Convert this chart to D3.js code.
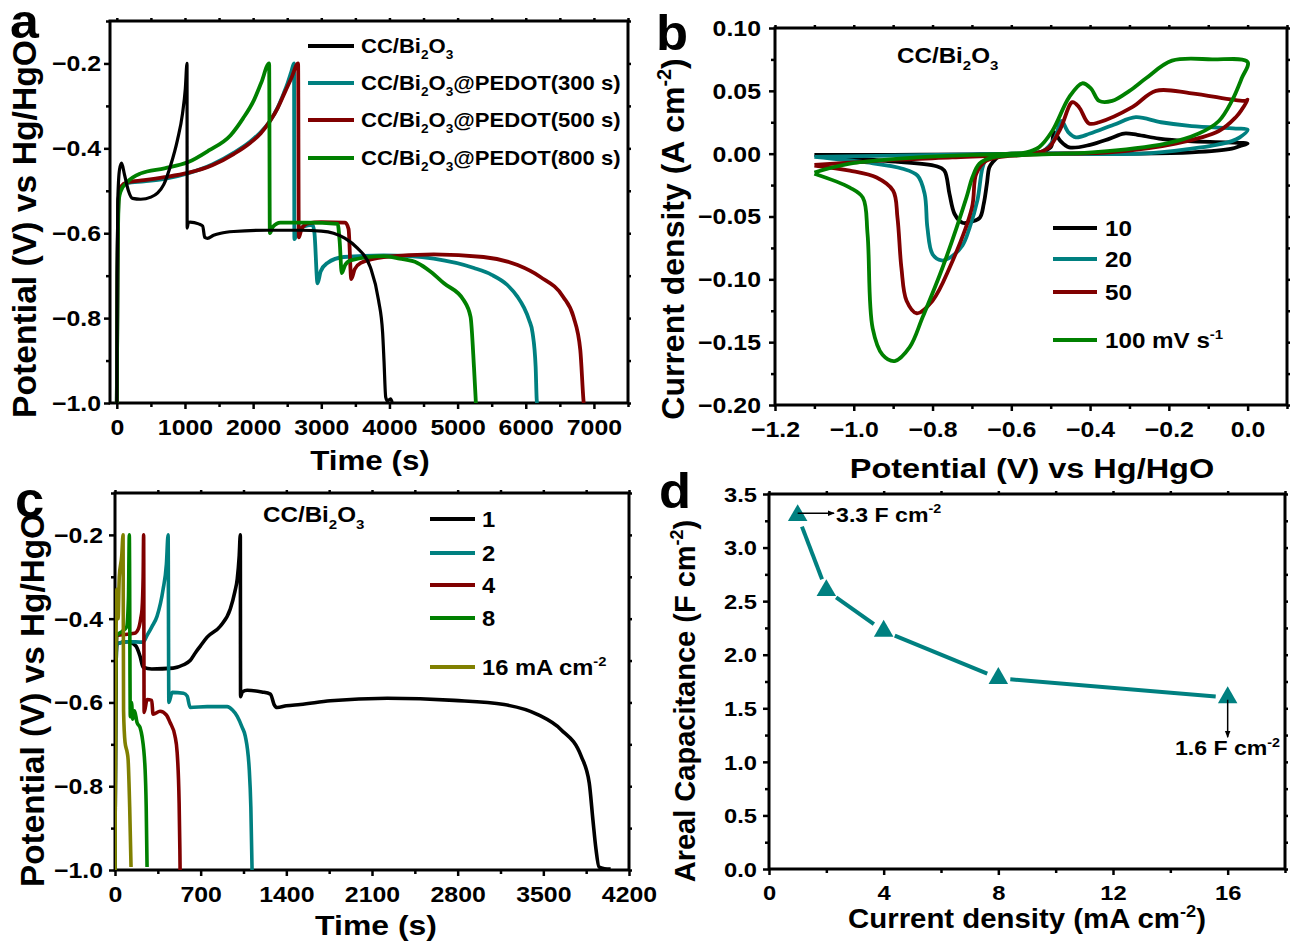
<!DOCTYPE html>
<html>
<head>
<meta charset="utf-8">
<script src="https://cdn.jsdelivr.net/npm/d3@7"></script>
<style>
  body { margin: 0; background: #fff; }
  text { font-family: "Liberation Sans", Arial, Helvetica, sans-serif; font-weight: bold; fill: #000; }
</style>
</head>
<body>
<svg id="fig" width="1293" height="941"></svg>
<script>
// ---- panel a : GCD of the four electrodes at 1 mA cm-2, [time s, potential V]
var gcd_bi2o3 = [[0,-1.0],[5,-0.7],[15,-0.52],[40,-0.45],[70,-0.435],[110,-0.46],[170,-0.5],[230,-0.518],[350,-0.52],[500,-0.515],[600,-0.505],[690,-0.485],[790,-0.44],[890,-0.38],[965,-0.317],[1005,-0.26],[1030,-0.2],[1032,-0.588],[1050,-0.575],[1075,-0.574],[1200,-0.578],[1260,-0.583],[1290,-0.61],[1330,-0.612],[1420,-0.605],[1525,-0.6],[1715,-0.596],[2200,-0.593],[2700,-0.593],[3000,-0.595],[3180,-0.6],[3350,-0.612],[3530,-0.635],[3720,-0.68],[3840,-0.758],[3900,-0.835],[3920,-0.9],[3945,-0.986],[3970,-0.995],[4017,-0.99],[4040,-0.998]];
var gcd_pedot300 = [[0,-1.0],[10,-0.7],[25,-0.52],[60,-0.495],[150,-0.482],[400,-0.478],[700,-0.472],[1040,-0.459],[1400,-0.438],[1720,-0.41],[1950,-0.385],[2110,-0.362],[2250,-0.335],[2360,-0.304],[2450,-0.27],[2505,-0.247],[2560,-0.22],[2600,-0.2],[2605,-0.614],[2640,-0.6],[2730,-0.585],[2870,-0.58],[2900,-0.6],[2945,-0.718],[2990,-0.69],[3090,-0.67],[3330,-0.656],[3915,-0.652],[4300,-0.654],[4650,-0.66],[5240,-0.682],[5500,-0.698],[5730,-0.722],[5880,-0.75],[5970,-0.774],[6050,-0.805],[6100,-0.835],[6145,-0.915],[6160,-0.99],[6165,-1.0]];
var gcd_pedot500 = [[0,-1.0],[10,-0.7],[25,-0.52],[60,-0.49],[150,-0.48],[400,-0.475],[700,-0.468],[1040,-0.458],[1400,-0.44],[1720,-0.413],[1950,-0.388],[2110,-0.365],[2250,-0.335],[2360,-0.305],[2460,-0.27],[2560,-0.235],[2660,-0.2],[2670,-0.61],[2710,-0.59],[2800,-0.577],[3000,-0.574],[3350,-0.575],[3400,-0.59],[3440,-0.708],[3490,-0.685],[3580,-0.67],[3915,-0.656],[4650,-0.65],[5380,-0.656],[5880,-0.675],[6215,-0.703],[6550,-0.75],[6700,-0.797],[6800,-0.875],[6845,-0.99],[6850,-1.0]];
var gcd_pedot800 = [[0,-1.0],[10,-0.7],[30,-0.52],[60,-0.5],[150,-0.48],[350,-0.459],[700,-0.447],[1040,-0.433],[1350,-0.405],[1670,-0.369],[1850,-0.33],[2010,-0.287],[2120,-0.245],[2235,-0.2],[2245,-0.6],[2290,-0.585],[2400,-0.575],[2800,-0.575],[3240,-0.578],[3270,-0.62],[3300,-0.694],[3350,-0.675],[3430,-0.664],[3915,-0.654],[4150,-0.66],[4410,-0.67],[4600,-0.69],[4800,-0.718],[5090,-0.758],[5190,-0.797],[5240,-0.915],[5265,-0.99],[5268,-1.0]];
var legendA = ['', '@PEDOT(300 s)', '@PEDOT(500 s)', '@PEDOT(800 s)'];

// ---- panel b : CV at several scan rates, [potential V, current A cm-2]
var cv_10 = [[-1.1,-0.001],[-0.9,-0.001],[-0.7,-0.0005],[-0.6,0],[-0.53,0.001],[-0.5,0.005],[-0.491,0.017],[-0.475,0.01],[-0.453,0.005],[-0.4,0.007],[-0.35,0.012],[-0.314,0.016],[-0.28,0.015],[-0.225,0.012],[-0.15,0.01],[-0.056,0.009],[0,0.008],[-0.02,0.006],[-0.04,0.004],[-0.142,0.001],[-0.31,0],[-0.55,0],[-0.63,-0.002],[-0.648,-0.007],[-0.656,-0.011],[-0.662,-0.024],[-0.67,-0.04],[-0.68,-0.051],[-0.7,-0.054],[-0.724,-0.055],[-0.744,-0.048],[-0.757,-0.032],[-0.77,-0.0135],[-0.79,-0.01],[-0.927,-0.0056],[-1.1,-0.001]];
var cv_20 = [[-1.1,-0.0025],[-0.9,-0.0015],[-0.7,-0.0005],[-0.6,0],[-0.52,0.002],[-0.49,0.012],[-0.473,0.026],[-0.455,0.017],[-0.436,0.013],[-0.4,0.016],[-0.34,0.023],[-0.284,0.029],[-0.22,0.025],[-0.142,0.022],[-0.03,0.02],[0,0.019],[-0.02,0.013],[-0.04,0.01],[-0.08,0.007],[-0.142,0.004],[-0.27,0],[-0.55,0],[-0.64,-0.002],[-0.663,-0.004],[-0.673,-0.011],[-0.686,-0.037],[-0.706,-0.059],[-0.724,-0.073],[-0.757,-0.083],[-0.777,-0.085],[-0.8,-0.08],[-0.813,-0.059],[-0.82,-0.032],[-0.838,-0.0175],[-0.876,-0.012],[-0.967,-0.007],[-1.1,-0.0025]];
var cv_50 = [[-1.1,-0.009],[-1.0,-0.007],[-0.9,-0.005],[-0.75,-0.003],[-0.6,-0.001],[-0.53,0.001],[-0.504,0.005],[-0.475,0.02],[-0.445,0.041],[-0.428,0.037],[-0.403,0.024],[-0.377,0.025],[-0.293,0.037],[-0.233,0.05],[-0.142,0.048],[-0.006,0.042],[0,0.043],[-0.015,0.035],[-0.03,0.029],[-0.073,0.018],[-0.183,0.008],[-0.352,0.001],[-0.562,-0.001],[-0.663,-0.0056],[-0.689,-0.016],[-0.7,-0.043],[-0.757,-0.091],[-0.8,-0.117],[-0.84,-0.127],[-0.866,-0.117],[-0.879,-0.091],[-0.889,-0.051],[-0.9,-0.0295],[-0.942,-0.019],[-1.01,-0.0135],[-1.1,-0.0095]];
var cv_100 = [[-1.1,-0.015],[-1.01,-0.008],[-0.84,-0.003],[-0.7,-0.001],[-0.6,0],[-0.562,0.001],[-0.53,0.005],[-0.496,0.018],[-0.453,0.045],[-0.42,0.056],[-0.398,0.052],[-0.377,0.042],[-0.344,0.042],[-0.3,0.05],[-0.258,0.06],[-0.192,0.074],[-0.09,0.075],[0,0.073],[-0.015,0.06],[-0.04,0.042],[-0.073,0.026],[-0.124,0.016],[-0.208,0.008],[-0.395,0.001],[-0.562,-0.001],[-0.648,-0.003],[-0.681,-0.008],[-0.699,-0.019],[-0.714,-0.035],[-0.775,-0.091],[-0.825,-0.13],[-0.858,-0.154],[-0.896,-0.165],[-0.927,-0.16],[-0.952,-0.139],[-0.965,-0.064],[-0.977,-0.035],[-1.01,-0.027],[-1.1,-0.016]];
var legendB = ['10', '20', '50', '100 mV s'];

// ---- panel c : GCD of CC/Bi2O3 at different current densities
var gcd_1 = [[0,-1.0],[5,-0.6],[15,-0.46],[100,-0.455],[170,-0.465],[205,-0.49],[230,-0.516],[300,-0.52],[475,-0.518],[560,-0.51],[614,-0.5],[660,-0.48],[696,-0.466],[753,-0.444],[860,-0.418],[942,-0.377],[980,-0.335],[999,-0.305],[1015,-0.25],[1024,-0.2],[1026,-0.586],[1040,-0.575],[1080,-0.571],[1200,-0.575],[1270,-0.58],[1300,-0.605],[1325,-0.612],[1400,-0.608],[1515,-0.605],[1760,-0.596],[2225,-0.59],[2770,-0.595],[3180,-0.605],[3455,-0.629],[3645,-0.665],[3810,-0.729],[3875,-0.792],[3905,-0.88],[3930,-0.95],[3955,-0.993],[4000,-0.997],[4050,-0.998]];
var gcd_2 = [[0,-1.0],[5,-0.6],[15,-0.46],[100,-0.455],[230,-0.456],[262,-0.44],[300,-0.42],[344,-0.394],[393,-0.33],[420,-0.27],[434,-0.2],[440,-0.6],[467,-0.576],[560,-0.578],[590,-0.585],[614,-0.612],[753,-0.61],[917,-0.61],[960,-0.618],[999,-0.633],[1040,-0.66],[1065,-0.681],[1097,-0.76],[1110,-0.85],[1120,-1.0]];
var gcd_4 = [[0,-1.0],[5,-0.6],[15,-0.44],[100,-0.437],[160,-0.435],[190,-0.425],[210,-0.4],[221,-0.377],[230,-0.3],[234,-0.2],[238,-0.624],[262,-0.593],[300,-0.595],[311,-0.628],[368,-0.621],[420,-0.63],[450,-0.648],[490,-0.68],[508,-0.72],[524,-0.84],[530,-0.95],[532,-1.0]];
var gcd_8 = [[0,-1.0],[5,-0.6],[15,-0.44],[60,-0.43],[95,-0.42],[110,-0.35],[117,-0.2],[125,-0.634],[135,-0.6],[145,-0.64],[160,-0.62],[180,-0.648],[205,-0.66],[221,-0.681],[246,-0.76],[255,-0.85],[262,-0.993]];
var gcd_16 = [[0,-1.0],[5,-0.6],[15,-0.33],[25,-0.4],[35,-0.3],[55,-0.25],[66,-0.2],[70,-0.62],[82,-0.695],[100,-0.72],[107,-0.736],[120,-0.85],[131,-0.993]];
var legendC = ['1', '2', '4', '8', '16 mA cm'];

// ---- panel d : areal capacitance
var currentDensity = [1, 2, 4, 8, 16];
var arealCap = [3.3, 2.6, 2.22, 1.78, 1.6];

var svg = d3.select('#fig');
var defs = svg.append('defs');
defs.append('marker')
  .attr('id', 'arrow')
  .attr('viewBox', '0 0 10 10')
  .attr('refX', 9).attr('refY', 5)
  .attr('markerWidth', 7).attr('markerHeight', 7)
  .attr('markerUnits', 'userSpaceOnUse')
  .attr('orient', 'auto')
  .append('path').attr('d', 'M0,1 L10,5 L0,9 z').attr('fill', '#000');

// text with sub/superscripts, parts = [[str, 'sub'|'sup'|null], ...]
function rich(sel, parts, size) {
  var off = 0;
  parts.forEach(function (p) {
    var target = p[1] === 'sub' ? size * 0.3 : p[1] === 'sup' ? -size * 0.4 : 0;
    sel.append('tspan')
      .attr('dy', target - off)
      .style('font-size', (p[1] ? size * 0.62 : size) + 'px')
      .text(p[0]);
    off = target;
  });
  return sel;
}

function label(x, y, parts, size, opts) {
  opts = opts || {};
  var tr = `translate(${x},${y}) scale(${opts.sx || 1},1)` + (opts.rot ? ` rotate(${opts.rot})` : '');
  var t = svg.append('text')
    .attr('transform', tr)
    .attr('text-anchor', opts.anchor || 'start')
    .style('font-size', size + 'px');
  if (opts.len) t.attr('textLength', opts.len).attr('lengthAdjust', 'spacingAndGlyphs');
  return rich(t, parts, size);
}

function minorOf(dom, step, major) {
  var out = [];
  var lo = Math.min(dom[0], dom[1]), hi = Math.max(dom[0], dom[1]);
  for (var v = Math.ceil(lo / step - 1e-9) * step; v <= hi + 1e-9; v += step) {
    var r = Math.round(v * 1e6) / 1e6;
    if (!major.some(function (m) { return Math.abs(m - r) < 1e-9; })) out.push(r);
  }
  return out;
}

function makePanel(o) {
  var x = d3.scaleLinear().domain(o.xDom).range([o.l, o.r]);
  var y = d3.scaleLinear().domain(o.yDom).range([o.b, o.t]);
  var g = svg.append('g');
  var cid = 'clip-' + o.name;
  defs.append('clipPath').attr('id', cid)
    .append('rect').attr('x', o.l).attr('y', o.t).attr('width', o.r - o.l).attr('height', o.b - o.t);

  var xMinor = minorOf(o.xDom, o.xStep / 2, o.xMajor);
  var yMinor = minorOf(o.yDom, o.yStep / 2, o.yMajor);

  function ax(gen, tr, vals, size, fmt) {
    var a = g.append('g').attr('transform', tr)
      .call(gen.tickValues(vals).tickSize(size).tickSizeOuter(0).tickFormat(fmt || ''));
    a.select('.domain').remove();
    a.selectAll('line').attr('stroke', '#000').attr('stroke-width', 2.5);
    return a;
  }

  var bx = ax(d3.axisBottom(x), `translate(0,${o.b})`, o.xMajor, 6, o.xFmt);
  bx.selectAll('text')
    .attr('y', o.xLabY).attr('dy', '0.71em')
    .attr('transform', `scale(${o.tsx},1)`)
    .style('font-size', o.tick + 'px').attr('fill', '#000');
  ax(d3.axisBottom(x), `translate(0,${o.b})`, xMinor, 4);
  ax(d3.axisTop(x), `translate(0,${o.t})`, o.xMajor.concat(xMinor), 3);

  var ly = ax(d3.axisLeft(y), `translate(${o.l},0)`, o.yMajor, 6, o.yFmt);
  ly.selectAll('text')
    .attr('x', -o.yLabGap / o.tsx).attr('dy', '0.34em')
    .attr('transform', `scale(${o.tsx},1)`)
    .style('font-size', o.tick + 'px').attr('fill', '#000');
  ax(d3.axisLeft(y), `translate(${o.l},0)`, yMinor, 4);
  ax(d3.axisRight(y), `translate(${o.r},0)`, o.yMajor.concat(yMinor), 3);

  g.append('rect')
    .attr('x', o.l).attr('y', o.t)
    .attr('width', o.r - o.l).attr('height', o.b - o.t)
    .attr('fill', 'none').attr('stroke', '#000').attr('stroke-width', 3);

  var plot = g.append('g').attr('clip-path', `url(#${cid})`);
  return { x: x, y: y, g: g, plot: plot };
}

var teal = '#008080', dred = '#800000', green = '#008000', olive = '#808000';

// ================= panel a =================
var pa = makePanel({
  name: 'a', l: 110, r: 628, t: 21, b: 403,
  xDom: [-100, 7500], yDom: [-1.0, -0.1],
  xMajor: d3.range(0, 7001, 1000), xStep: 1000,
  yMajor: [-1.0, -0.8, -0.6, -0.4, -0.2], yStep: 0.2,
  xFmt: d3.format('d'), yFmt: d3.format('.1f'),
  tick: 22, tsx: 1.13, xLabY: 16, yLabGap: 9
});
var lineA = d3.line().x(d => pa.x(d[0])).y(d => pa.y(d[1])).curve(d3.curveMonotoneX);
[[gcd_pedot300, teal], [gcd_pedot500, dred], [gcd_pedot800, green], [gcd_bi2o3, '#000']].forEach(function (s) {
  pa.plot.append('path')
    .attr('d', lineA(s[0]))
    .attr('fill', 'none').attr('stroke', s[1])
    .attr('stroke-width', s[1] === '#000' ? 3.2 : 3.8)
    .attr('stroke-linejoin', 'round');
});
var legAy = [46, 83, 120, 158];
['#000', teal, dred, green].forEach(function (c, i) {
  svg.append('line').attr('x1', 308).attr('x2', 354).attr('y1', legAy[i]).attr('y2', legAy[i])
    .attr('stroke', c).attr('stroke-width', 4);
  var parts = [['CC/Bi'], ['2', 'sub'], ['O'], ['3', 'sub']];
  if (legendA[i]) parts.push([legendA[i]]);
  label(361, legAy[i] + 7, parts, 21, { sx: 1.05 });
});
label(10, 38, [['a']], 48, { sx: 1.08 });
label(36, 229, [['Potential (V) vs Hg/HgO']], 33, { rot: -90, anchor: 'middle', len: 378 });
label(370, 470, [['Time (s)']], 28, { anchor: 'middle', sx: 1.12 });

// ================= panel b =================
var pb = makePanel({
  name: 'b', l: 775, r: 1287, t: 28, b: 405,
  xDom: [-1.2, 0.1], yDom: [-0.2, 0.1],
  xMajor: [-1.2, -1.0, -0.8, -0.6, -0.4, -0.2, 0.0], xStep: 0.2,
  yMajor: [-0.2, -0.15, -0.1, -0.05, 0, 0.05, 0.1], yStep: 0.05,
  xFmt: d3.format('.1f'), yFmt: d3.format('.2f'),
  tick: 22, tsx: 1.13, xLabY: 16, yLabGap: 14
});
var lineB = d3.line().x(d => pb.x(d[0])).y(d => pb.y(d[1])).curve(d3.curveCatmullRom.alpha(0.5));
var cvSets = [[cv_10, '#000'], [cv_20, teal], [cv_50, dred], [cv_100, green]];
cvSets.forEach(function (s) {
  pb.plot.append('path')
    .attr('d', lineB(s[0]))
    .attr('fill', 'none').attr('stroke', s[1])
    .attr('stroke-width', 3.8).attr('stroke-linejoin', 'round');
});
var legBy = [228, 259, 292, 340];
cvSets.forEach(function (s, i) {
  svg.append('line').attr('x1', 1053).attr('x2', 1097).attr('y1', legBy[i]).attr('y2', legBy[i])
    .attr('stroke', s[1]).attr('stroke-width', 4);
  var parts = [[legendB[i]]];
  if (i === 3) parts.push(['-1', 'sup']);
  label(1105, legBy[i] + 8, parts, 22, { sx: 1.1 });
});
label(897, 63, [['CC/Bi'], ['2', 'sub'], ['O'], ['3', 'sub']], 22, { sx: 1.1 });
label(656, 50, [['b']], 50, { sx: 1.05 });
label(684, 239, [['Current density (A cm'], ['-2', 'sup'], [')']], 32, { rot: -90, anchor: 'middle' });
label(1032, 478, [['Potential (V) vs Hg/HgO']], 28, { anchor: 'middle', sx: 1.16 });

// ================= panel c =================
var pc = makePanel({
  name: 'c', l: 115, r: 629, t: 493, b: 870,
  xDom: [0, 4200], yDom: [-1.0, -0.1],
  xMajor: d3.range(0, 4201, 700), xStep: 700,
  yMajor: [-1.0, -0.8, -0.6, -0.4, -0.2], yStep: 0.2,
  xFmt: d3.format('d'), yFmt: d3.format('.1f'),
  tick: 22, tsx: 1.13, xLabY: 16, yLabGap: 12
});
var lineC = d3.line().x(d => pc.x(d[0])).y(d => pc.y(d[1])).curve(d3.curveMonotoneX);
var gcdSets = [[gcd_1, '#000'], [gcd_2, teal], [gcd_4, dred], [gcd_8, green], [gcd_16, olive]];
gcdSets.forEach(function (s) {
  pc.plot.append('path')
    .attr('d', lineC(s[0]))
    .attr('fill', 'none').attr('stroke', s[1])
    .attr('stroke-width', 3.6).attr('stroke-linejoin', 'round');
});
var legCy = [519, 553, 585, 618, 667];
gcdSets.forEach(function (s, i) {
  svg.append('line').attr('x1', 430).attr('x2', 475).attr('y1', legCy[i]).attr('y2', legCy[i])
    .attr('stroke', s[1]).attr('stroke-width', 4);
  var parts = [[legendC[i]]];
  if (i === 4) parts.push(['-2', 'sup']);
  label(482, legCy[i] + 8, parts, 22, { sx: 1.08 });
});
label(263, 522, [['CC/Bi'], ['2', 'sub'], ['O'], ['3', 'sub']], 22, { sx: 1.1 });
label(15, 517, [['c']], 50, { sx: 1.05 });
label(44, 700, [['Potential (V) vs Hg/HgO']], 33, { rot: -90, anchor: 'middle', len: 374 });
label(376, 935, [['Time (s)']], 28, { anchor: 'middle', sx: 1.14 });

// ================= panel d =================
var pd = makePanel({
  name: 'd', l: 769, r: 1285, t: 494, b: 869,
  xDom: [0, 18], yDom: [0, 3.5],
  xMajor: [0, 4, 8, 12, 16], xStep: 4,
  yMajor: d3.range(0, 3.51, 0.5), yStep: 0.5,
  xFmt: d3.format('d'), yFmt: d3.format('.1f'),
  tick: 21, tsx: 1.13, xLabY: 16, yLabGap: 12
});
var capPts = currentDensity.map((c, i) => [pd.x(c), pd.y(arealCap[i])]);
// segments stop short of the markers, as in the original plot
var gap = 12;
for (var i = 0; i < capPts.length - 1; i++) {
  var p0 = capPts[i], p1 = capPts[i + 1];
  var dx = p1[0] - p0[0], dy = p1[1] - p0[1], len = Math.hypot(dx, dy);
  pd.plot.append('line')
    .attr('x1', p0[0] + dx / len * gap).attr('y1', p0[1] + dy / len * gap)
    .attr('x2', p1[0] - dx / len * gap).attr('y2', p1[1] - dy / len * gap)
    .attr('stroke', teal).attr('stroke-width', 4);
}
pd.g.selectAll('path.mk')
  .data(capPts).enter().append('path')
  .attr('class', 'mk')
  .attr('transform', d => `translate(${d[0]},${d[1]})`)
  .attr('d', d3.symbol(d3.symbolTriangle, 165))
  .attr('fill', teal);

// annotations
pd.g.append('line')
  .attr('x1', pd.x(1)).attr('y1', pd.y(3.32))
  .attr('x2', pd.x(2.27)).attr('y2', pd.y(3.32))
  .attr('stroke', '#000').attr('stroke-width', 1.5).attr('marker-end', 'url(#arrow)');
pd.g.append('line')
  .attr('x1', pd.x(16)).attr('y1', pd.y(1.58))
  .attr('x2', pd.x(16)).attr('y2', pd.y(1.23))
  .attr('stroke', '#000').attr('stroke-width', 1.5).attr('marker-end', 'url(#arrow)');
label(pd.x(2.34), pd.y(3.24), [['3.3 F cm'], ['-2', 'sup']], 21, { sx: 1.1 });
label(pd.x(14.16), pd.y(1.064), [['1.6 F cm'], ['-2', 'sup']], 21, { sx: 1.1 });

label(659, 508, [['d']], 50, { sx: 1.05 });
label(695, 701, [['Areal Capacitance (F cm'], ['-2', 'sup'], [')']], 29, { rot: -90, anchor: 'middle' });
label(1027, 928, [['Current density (mA cm'], ['-2', 'sup'], [')']], 28, { anchor: 'middle', sx: 1.05 });
</script>
</body>
</html>
